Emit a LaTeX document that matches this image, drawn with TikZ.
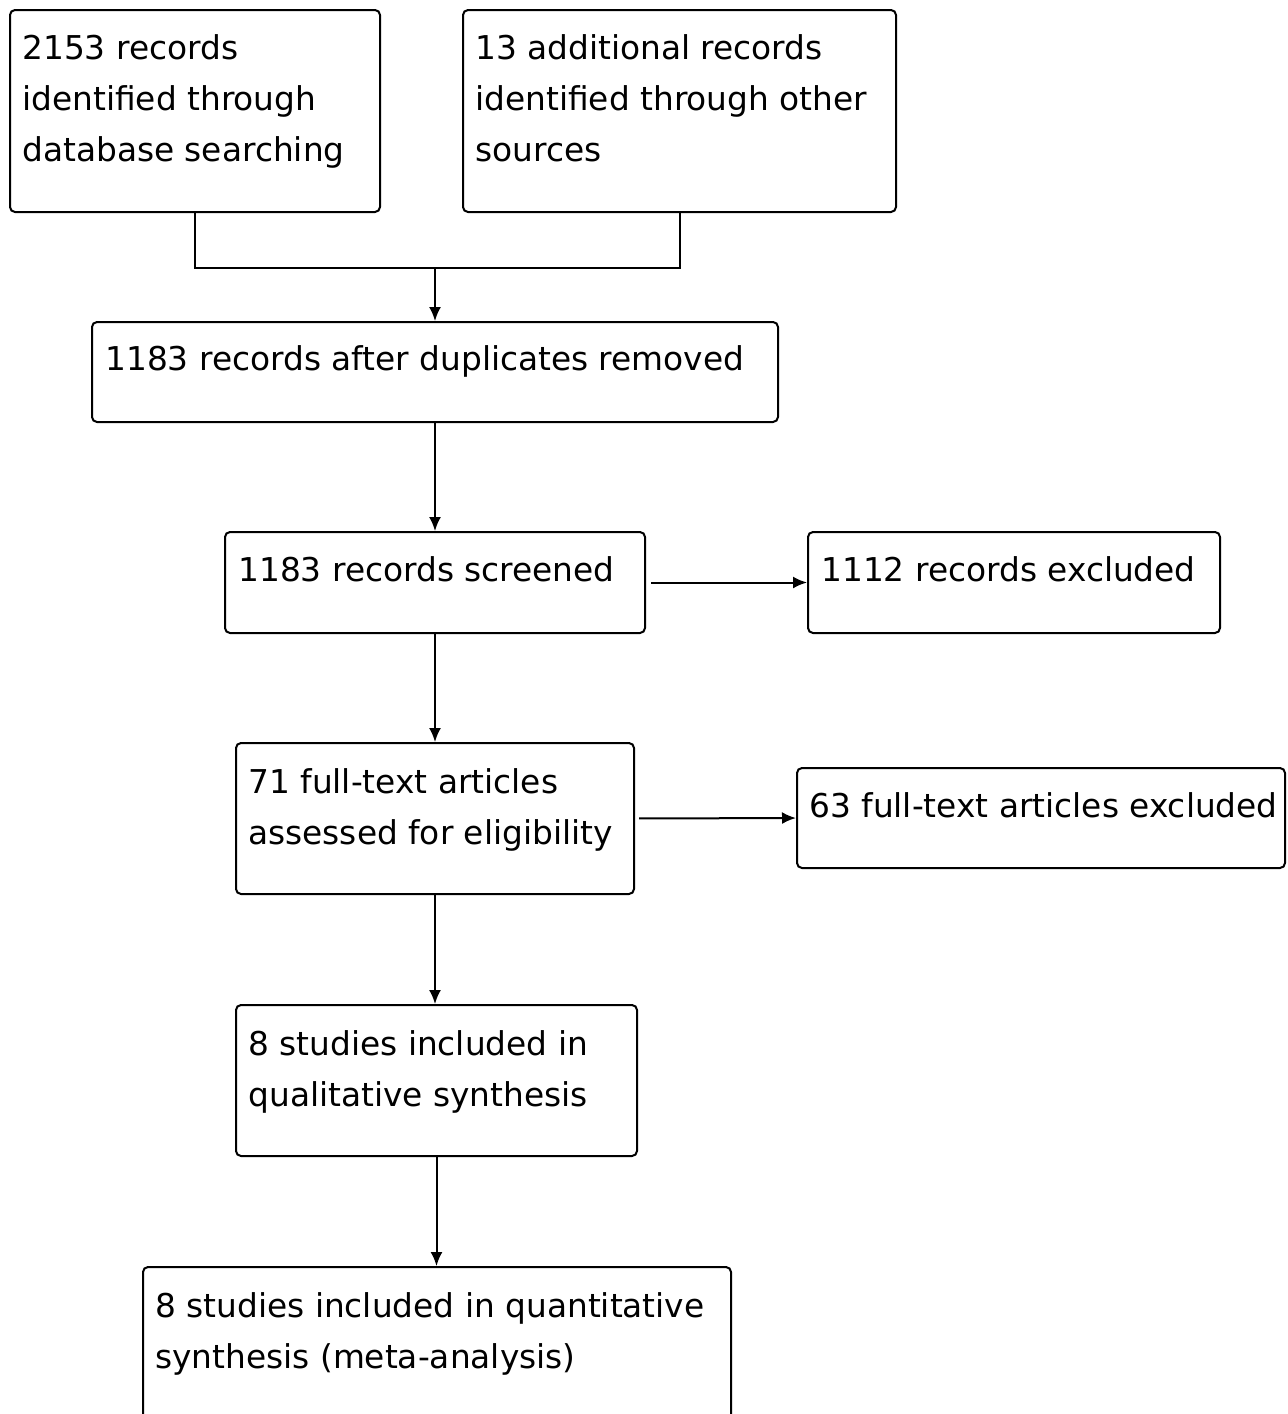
\documentclass[tikz,border=0pt]{standalone}
\usepackage{fontspec}
\setmainfont{DejaVu Sans}
\usetikzlibrary{positioning, fit, calc, arrows.meta}
\tikzstyle{flowbox} = [draw, rounded corners=2.5pt, line width=1pt,
inner sep=0pt]
\tikzstyle{boxtext} = [anchor=north west, align=left, inner sep=0pt,
font=\fontsize{16.4}{25.5}\selectfont]
\tikzstyle{flowline} = [line width=1pt]
\tikzstyle{flowarrow} = [line width=1pt,
-{Latex[length=7pt,width=6pt]}]

\begin{document}
\begin{tikzpicture}[x=0.5pt, y=-0.5pt]
	\clip (0,0) rectangle (1287,1414);
	%% Identification
	\node[flowbox, fit={(10,10) (380,212)}] (database) {};
	\node[boxtext] (databaseText) at ([shift={(13,25)}]database.north west) {
		2153 records\\
		identified through\\
		database searching};
	\node[flowbox, fit={(463,10) (896,212)}] (other) {};
	\node[boxtext] (otherText) at ([shift={(13,25)}]other.north west) {
		13 additional records\\
		identified through other\\
		sources};
	\node[flowbox, fit={(92,322) (778,422)}] (dup) {};
	\node[boxtext] (dupText) at ([shift={(14,24)}]dup.north west) {
		1183 records after duplicates removed};
	%% Screening
	\node[flowbox, fit={(225,532) (645,633)}] (screen) {};
	\node[boxtext] (screenText) at ([shift={(14,25)}]screen.north west) {
		1183 records screened};
	\node[flowbox, fit={(808,532) (1220,633)}] (screenExcl) {};
	\node[boxtext] (screenExclText) at ([shift={(14,25)}]screenExcl.north west) {
		1112 records excluded};
	%% Eligibility
	\node[flowbox, fit={(236,743) (634,894)}] (full) {};
	\node[boxtext] (fullText) at ([shift={(13,26)}]full.north west) {
		71 full-text articles\\
		assessed for eligibility};
	\node[flowbox, fit={(797,768) (1285,868)}] (fullExcl) {};
	\node[boxtext] (fullExclText) at ([shift={(13,25)}]fullExcl.north west) {
		63 full-text articles excluded};
	%% Included
	\node[flowbox, fit={(236,1005) (637,1156)}] (qual) {};
	\node[boxtext] (qualText) at ([shift={(13,26)}]qual.north west) {
		8 studies included in\\
		qualitative synthesis};
	\node[flowbox, fit={(143,1267) (731,1440)}] (quant) {};
	\node[boxtext] (quantText) at ([shift={(13,26)}]quant.north west) {
		8 studies included in quantitative\\
		synthesis (meta-analysis)};
	%% Connectors
	\coordinate (merge) at (dup.north |- 0,268);
	\draw[flowline] (database.south) |- (merge) -| (other.south);
	\draw[flowarrow] (merge) -- (dup.north);
	\draw[flowarrow] (dup.south) -- (screen.north);
	\draw[flowarrow, shorten <=2.5pt] (screen.east) -- (screenExcl.west);
	\draw[flowarrow] (screen.south) -- (full.north);
	\draw[flowarrow, shorten <=2pt] (full.east) -- (fullExcl.west);
	\draw[flowarrow] (full.south) -- (full.south |- qual.north);
	\draw[flowarrow] (qual.south) -- (qual.south |- quant.north);
\end{tikzpicture}
\end{document}
